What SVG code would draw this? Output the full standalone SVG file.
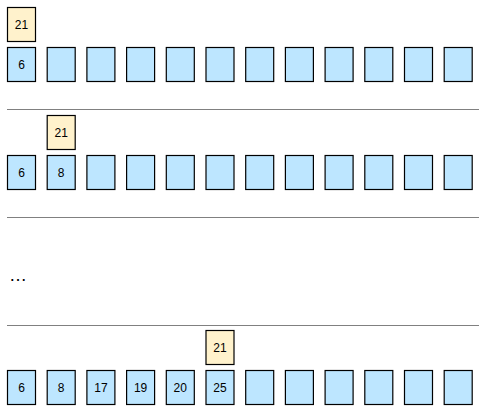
<svg xmlns="http://www.w3.org/2000/svg" width="480" height="410" viewBox="0 0 480 410">
<style>
.b{fill:#bde6ff;stroke:#000;stroke-width:1.2}
.y{fill:#fff2cc;stroke:#000;stroke-width:1.2}
.t{font-family:"Liberation Sans",Arial,sans-serif;font-size:12px;fill:#000;text-anchor:middle;dominant-baseline:central}
.sep{stroke:#808080;stroke-width:1.2}
</style>
<defs>
<rect id="cell" width="28" height="34"/>
</defs>
<g id="row1">
<g id="r1-key"><rect class="y" x="7.5" y="7.5" width="28" height="34"/><text class="t" x="21.5" y="24.5">21</text></g>
<g id="r1-c0"><rect class="b" x="7.5" y="47.5" width="28" height="34"/><text class="t" x="21.5" y="64.5">6</text></g>
<g id="r1-c1"><rect class="b" x="47.2" y="47.5" width="28" height="34"/></g>
<g id="r1-c2"><rect class="b" x="86.9" y="47.5" width="28" height="34"/></g>
<g id="r1-c3"><rect class="b" x="126.6" y="47.5" width="28" height="34"/></g>
<g id="r1-c4"><rect class="b" x="166.3" y="47.5" width="28" height="34"/></g>
<g id="r1-c5"><rect class="b" x="206" y="47.5" width="28" height="34"/></g>
<g id="r1-c6"><rect class="b" x="245.7" y="47.5" width="28" height="34"/></g>
<g id="r1-c7"><rect class="b" x="285.4" y="47.5" width="28" height="34"/></g>
<g id="r1-c8"><rect class="b" x="325.1" y="47.5" width="28" height="34"/></g>
<g id="r1-c9"><rect class="b" x="364.8" y="47.5" width="28" height="34"/></g>
<g id="r1-c10"><rect class="b" x="404.5" y="47.5" width="28" height="34"/></g>
<g id="r1-c11"><rect class="b" x="444.2" y="47.5" width="28" height="34"/></g>
</g>
<g id="separators">
<line class="sep" x1="7" y1="109.5" x2="479" y2="109.5"/>
<line class="sep" x1="7" y1="217.5" x2="479" y2="217.5"/>
<line class="sep" x1="7" y1="325.5" x2="479" y2="325.5"/>
</g>
<g id="row2">
<g id="r2-key"><rect class="y" x="47.2" y="115.5" width="28" height="34"/><text class="t" x="61.2" y="132.5">21</text></g>
<g id="r2-c0"><rect class="b" x="7.5" y="155.5" width="28" height="34"/><text class="t" x="21.5" y="172.5">6</text></g>
<g id="r2-c1"><rect class="b" x="47.2" y="155.5" width="28" height="34"/><text class="t" x="61.2" y="172.5">8</text></g>
<g id="r2-c2"><rect class="b" x="86.9" y="155.5" width="28" height="34"/></g>
<g id="r2-c3"><rect class="b" x="126.6" y="155.5" width="28" height="34"/></g>
<g id="r2-c4"><rect class="b" x="166.3" y="155.5" width="28" height="34"/></g>
<g id="r2-c5"><rect class="b" x="206" y="155.5" width="28" height="34"/></g>
<g id="r2-c6"><rect class="b" x="245.7" y="155.5" width="28" height="34"/></g>
<g id="r2-c7"><rect class="b" x="285.4" y="155.5" width="28" height="34"/></g>
<g id="r2-c8"><rect class="b" x="325.1" y="155.5" width="28" height="34"/></g>
<g id="r2-c9"><rect class="b" x="364.8" y="155.5" width="28" height="34"/></g>
<g id="r2-c10"><rect class="b" x="404.5" y="155.5" width="28" height="34"/></g>
<g id="r2-c11"><rect class="b" x="444.2" y="155.5" width="28" height="34"/></g>
</g>
<g id="ellipsis"><text x="9" y="281" style="font-family:'Liberation Sans',Arial,sans-serif;font-size:18px;fill:#000">…</text></g>
<g id="row3">
<g id="r3-key"><rect class="y" x="206" y="330.5" width="28" height="34"/><text class="t" x="220" y="347.5">21</text></g>
<g id="r3-c0"><rect class="b" x="7.5" y="370.5" width="28" height="34"/><text class="t" x="21.5" y="387.5">6</text></g>
<g id="r3-c1"><rect class="b" x="47.2" y="370.5" width="28" height="34"/><text class="t" x="61.2" y="387.5">8</text></g>
<g id="r3-c2"><rect class="b" x="86.9" y="370.5" width="28" height="34"/><text class="t" x="100.9" y="387.5">17</text></g>
<g id="r3-c3"><rect class="b" x="126.6" y="370.5" width="28" height="34"/><text class="t" x="140.6" y="387.5">19</text></g>
<g id="r3-c4"><rect class="b" x="166.3" y="370.5" width="28" height="34"/><text class="t" x="180.3" y="387.5">20</text></g>
<g id="r3-c5"><rect class="b" x="206" y="370.5" width="28" height="34"/><text class="t" x="220" y="387.5">25</text></g>
<g id="r3-c6"><rect class="b" x="245.7" y="370.5" width="28" height="34"/></g>
<g id="r3-c7"><rect class="b" x="285.4" y="370.5" width="28" height="34"/></g>
<g id="r3-c8"><rect class="b" x="325.1" y="370.5" width="28" height="34"/></g>
<g id="r3-c9"><rect class="b" x="364.8" y="370.5" width="28" height="34"/></g>
<g id="r3-c10"><rect class="b" x="404.5" y="370.5" width="28" height="34"/></g>
<g id="r3-c11"><rect class="b" x="444.2" y="370.5" width="28" height="34"/></g>
</g>
</svg>
